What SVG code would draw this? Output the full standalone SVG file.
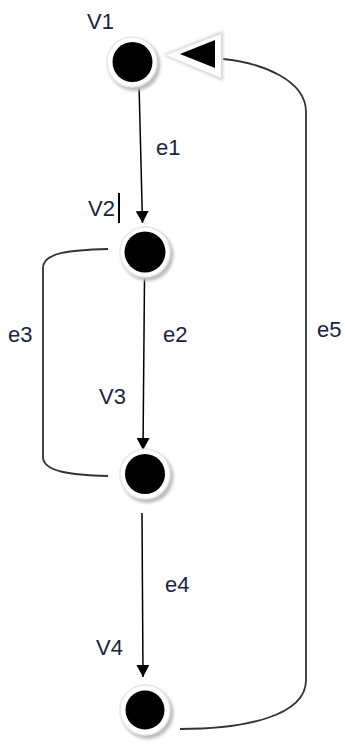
<svg xmlns="http://www.w3.org/2000/svg" width="345" height="747" viewBox="0 0 345 747">
  <style>
    .lbl { font-family: "Liberation Sans", "Open Sans", sans-serif; font-size: 22px; fill: #1c2340; }
    .edge { fill: none; stroke: #000; stroke-width: 1.5; }
    .loop { fill: none; stroke: #333; stroke-width: 1.8; }
    .halo { fill: #fff; stroke: #e6e6e6; stroke-width: 1.5; }
    .shade { fill: #bdbdbd; filter: url(#soft); }
    .core { fill: #000; }
  </style>
  <defs>
    <filter id="soft" x="-30%" y="-30%" width="160%" height="160%">
      <feGaussianBlur stdDeviation="1.6"/>
    </filter>
    <marker id="arrow" viewBox="0 0 12 13" refX="12" refY="6.5" markerWidth="12" markerHeight="13" markerUnits="userSpaceOnUse" orient="auto">
      <path d="M0,0 L12,6.5 L0,13 Z" fill="#000"/>
    </marker>
  </defs>

  <rect width="345" height="747" fill="#fff"/>

  <!-- connectors -->
  <g id="edges">
    <path id="e1" class="edge" d="M139,84 L142.5,223" marker-end="url(#arrow)"/>
    <path id="e2" class="edge" d="M144.5,278 L143,450" marker-end="url(#arrow)"/>
    <path id="e3" class="loop" d="M108,249 C72,250 43,252 43,268 L43,457 C43,472 72,475 108,476"/>
    <path id="e4" class="edge" d="M142,513 L143,677" marker-end="url(#arrow)"/>
    <path id="e5" class="loop" d="M223,59 C262,63 306,80 306,112 L306,680 C306,716 245,729 180,729"/>
    <!-- hollow arrowhead where e5 meets V1 -->
    <g id="e5-head">
      <polygon points="163,55 223,31 223,81" fill="#d0d0d0" filter="url(#soft)"/>
      <polygon points="166,55 221,34 221,78" fill="#fff"/>
      <polygon points="180,54 215,40 215,68" fill="#000"/>
    </g>
  </g>

  <!-- vertices -->
  <g id="V1">
    <circle class="shade" cx="134.5" cy="65" r="26"/>
    <circle class="halo" cx="132" cy="62" r="25"/>
    <circle class="core" cx="132.5" cy="62" r="20"/>
  </g>
  <g id="V2">
    <circle class="shade" cx="147.5" cy="255" r="26"/>
    <circle class="halo" cx="145" cy="252" r="25"/>
    <circle class="core" cx="145" cy="252" r="20.5"/>
  </g>
  <g id="V3">
    <circle class="shade" cx="147.5" cy="477" r="26"/>
    <circle class="halo" cx="145" cy="474" r="25"/>
    <circle class="core" cx="145" cy="474" r="20"/>
  </g>
  <g id="V4">
    <circle class="shade" cx="147.5" cy="713" r="26"/>
    <circle class="halo" cx="145" cy="710" r="25"/>
    <circle class="core" cx="145" cy="710" r="19.5"/>
  </g>

  <!-- labels -->
  <g id="labels">
    <text class="lbl" x="87" y="29">V1</text>
    <text class="lbl" x="88" y="216">V2</text>
    <line x1="119" y1="193" x2="119" y2="223" stroke="#000" stroke-width="2"/>
    <text class="lbl" x="99" y="404">V3</text>
    <text class="lbl" x="96" y="655">V4</text>
    <text class="lbl" x="156" y="155">e1</text>
    <text class="lbl" x="163" y="342">e2</text>
    <text class="lbl" x="8" y="342">e3</text>
    <text class="lbl" x="165" y="592">e4</text>
    <text class="lbl" x="317" y="337">e5</text>
  </g>
</svg>
